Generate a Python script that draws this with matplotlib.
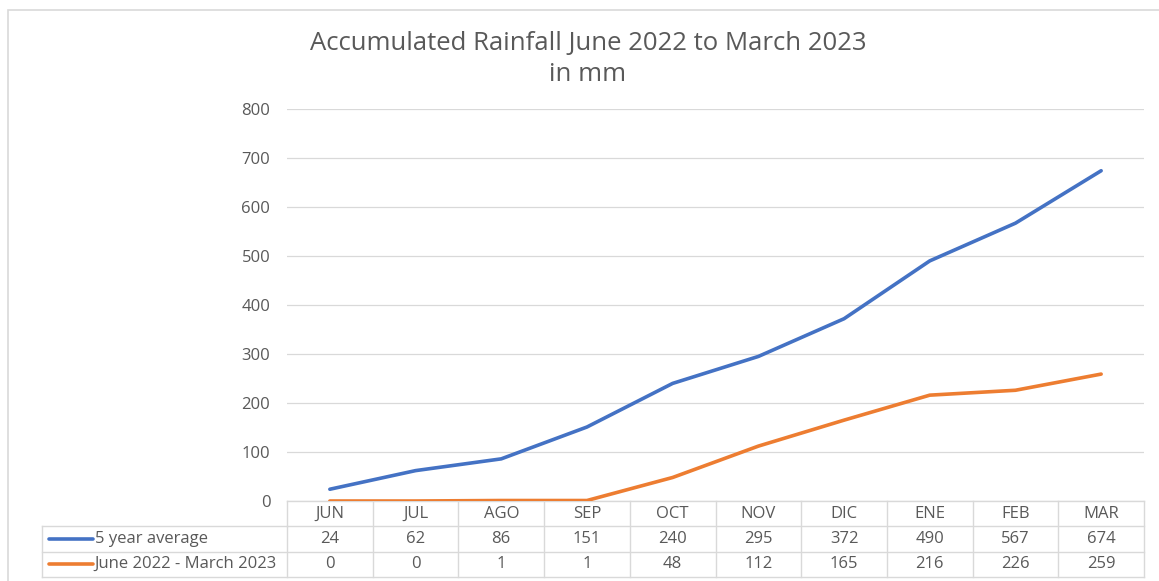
import matplotlib
matplotlib.use('Agg')
import numpy as np
import matplotlib.pyplot as plt
from matplotlib.patches import Rectangle
import matplotlib.transforms as mtransforms

plt.rcParams['font.family'] = ['Open Sans', 'DejaVu Sans']

months      = ['JUN', 'JUL', 'AGO', 'SEP', 'OCT', 'NOV', 'DIC', 'ENE', 'FEB', 'MAR']
avg_5yr     = [24, 62, 86, 151, 240, 295, 372, 490, 567, 674]
season_2223 = [0, 0, 1, 1, 48, 112, 165, 216, 226, 259]
series_names  = ['5 year average', 'June 2022 - March 2023']
series_colors = ['#4472C4', '#ED7D31']
title_str = 'Accumulated Rainfall June 2022 to March 2023\nin mm'

grid_c = '#D9D9D9'
text_c = '#595959'
fs     = 12

fig = plt.figure(figsize=(11.59, 5.81), dpi=100)
ax  = fig.add_axes([287/1159, 80/581, (1144-287)/1159, 392/581])

# chart frame
fig.patches.append(Rectangle((8/1159, -0.1), 1.2, (581-10)/581 + 0.1, transform=fig.transFigure,
                             fill=False, edgecolor=grid_c, linewidth=1.2))

xpos = np.arange(len(months)) + 0.5
for vals, col in zip([avg_5yr, season_2223], series_colors):
    ax.plot(xpos, vals, color=col, linewidth=2.6, solid_capstyle='round', zorder=3)

ax.set_xlim(0, len(months))
ax.set_ylim(0, 800)
ax.set_yticks(np.arange(0, 801, 100))
ax.set_xticks([])
ax.grid(axis='y', color=grid_c, linewidth=0.9)
ax.set_axisbelow(True)
for s in ax.spines.values():
    s.set_visible(False)
ax.tick_params(axis='y', length=0, pad=12, labelsize=fs, labelcolor=text_c)

fig.text(588/1159, 1 - 59/581, title_str, ha='center', va='center', fontsize=18.5,
         color=text_c, linespacing=1.35)

# data table below the axis
trans = mtransforms.blended_transform_factory(ax.transData, ax.transAxes)
row_h = 25.3/392
x_left = (42 - 287)/((1144-287)/10)
line_kw = dict(color=grid_c, linewidth=1.0, transform=trans, clip_on=False)

ax.plot([0, 10], [0, 0], **line_kw)
for i in range(1, 4):
    ax.plot([x_left if i > 1 else 0, 10], [-i*row_h, -i*row_h], **line_kw)
ax.plot([x_left, 0], [-row_h, -row_h], **line_kw)
for xv in range(0, 11):
    ax.plot([xv, xv], [0, -3*row_h], **line_kw)
ax.plot([x_left, x_left], [-row_h, -3*row_h], **line_kw)

for m, xv in zip(months, xpos):
    ax.text(xv, -0.5*row_h, m, transform=trans, ha='center', va='center',
            fontsize=fs, color=text_c, clip_on=False)

key_x0 = (49 - 287)/((1144-287)/10)
key_x1 = (93 - 287)/((1144-287)/10)
for r, (name, vals, col) in enumerate(zip(series_names, [avg_5yr, season_2223], series_colors)):
    yc = -(r + 1.5)*row_h
    ax.plot([key_x0, key_x1], [yc, yc], color=col, linewidth=2.6, transform=trans,
            clip_on=False, solid_capstyle='round')
    ax.text(key_x1 + 0.02, yc, name, transform=trans, ha='left', va='center',
            fontsize=fs, color=text_c, clip_on=False)
    for v, xv in zip(vals, xpos):
        ax.text(xv, yc, str(v), transform=trans, ha='center', va='center',
                fontsize=fs, color=text_c, clip_on=False)

fig.savefig('out.png', dpi=100)
